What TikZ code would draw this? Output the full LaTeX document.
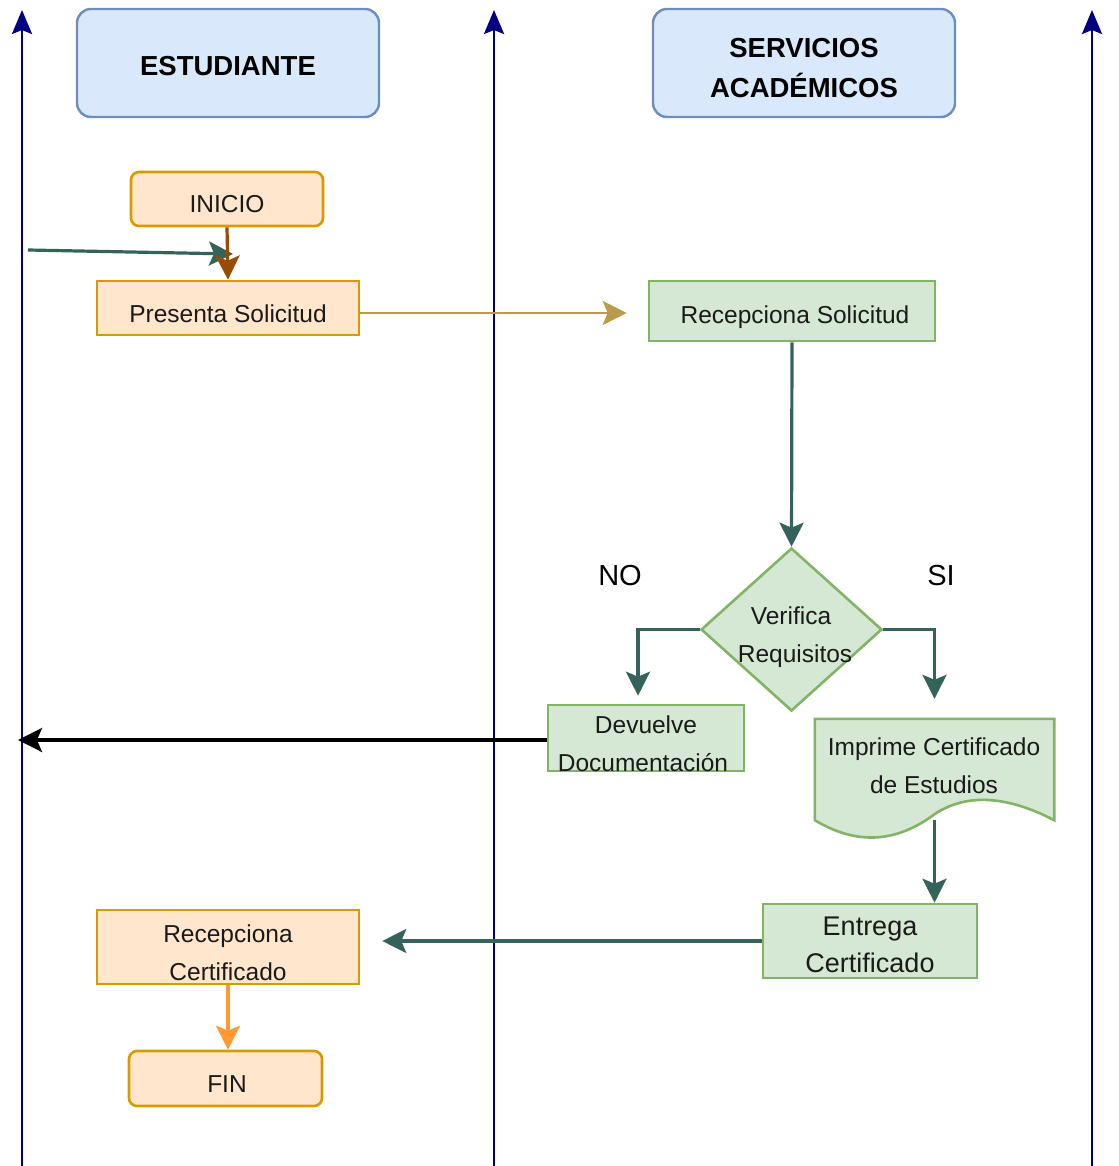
\documentclass[tikz,border=0pt]{standalone}
\usepackage{fontspec}
\setmainfont{Liberation Sans}
\usetikzlibrary{arrows.meta,shapes.geometric,calc}
\definecolor{hfill}{HTML}{DAE8FC}
\definecolor{hdraw}{HTML}{6C8EBF}
\definecolor{ofill}{HTML}{FFE6CC}
\definecolor{odraw}{HTML}{D79B00}
\definecolor{gfill}{HTML}{D5E8D4}
\definecolor{gdraw}{HTML}{82B366}
\definecolor{lanec}{HTML}{000080}
\definecolor{tealc}{HTML}{35635C}
\definecolor{tanc}{HTML}{B99B4B}
\definecolor{brownc}{HTML}{994C00}
\definecolor{orangec}{HTML}{FF9933}
\definecolor{txtc}{HTML}{1A1A1A}
\tikzset{
  hdrbox/.style={draw=hdraw,fill=hfill,line width=2.4pt,rounded corners=14pt,minimum width=302pt,minimum height=108pt,inner sep=0pt},
  obox/.style={draw=odraw,fill=ofill,line width=2.6pt,minimum width=262pt,inner sep=0pt},
  oround/.style={obox,rounded corners=8pt},
  gbox/.style={draw=gdraw,fill=gfill,line width=2.6pt,inner sep=0pt},
  txt/.style={inner sep=0pt,anchor=base,text=txtc,font=\fontsize{24.5}{29}\selectfont},
  bigtxt/.style={txt,font=\fontsize{27}{32}\selectfont},
  yesno/.style={txt,text=black,font=\fontsize{29}{34}\selectfont},
  hdrtxt/.style={txt,text=black,font=\bfseries\fontsize{27.5}{33}\selectfont},
  lanearrow/.style={draw=lanec,line width=2.8pt,-{Stealth[length=24pt,width=20pt,inset=4pt]}},
  conn/.style={line width=3.2pt,-{Stealth[length=24pt,width=24pt,inset=5pt]}},
}
\begin{document}
\begin{tikzpicture}[x=1pt,y=-1pt]
\useasboundingbox (0,0) rectangle (1118,1166);
% lanes
\coordinate (l1b) at (22,1170); \coordinate (l1t) at (22,10);
\coordinate (l2b) at (494,1170); \coordinate (l2t) at (494,10);
\coordinate (l3b) at (1092,1170); \coordinate (l3t) at (1092,10);
\draw[lanearrow] (l1b) -- (l1t);
\draw[lanearrow] (l2b) -- (l2t);
\draw[lanearrow] (l3b) -- (l3t);
% headers
\node[hdrbox] (hE) at (228,63) {};
\node[hdrtxt] (hEt) at (228,76) {ESTUDIANTE};
\node[hdrbox] (hS) at (804,63) {};
\node[hdrtxt] (hSt1) at (804,58) {SERVICIOS};
\node[hdrtxt] (hSt2) at (804,98) {ACADÉMICOS};
% student lane
\node[oround,minimum width=192pt,minimum height=54pt] (inicio) at (227,199) {};
\node[txt] (inicioT) at (227,213) {INICIO};
\node[obox,minimum height=54pt] (pres) at (228,308) {};
\node[txt] (presT) at (228,322) {Presenta Solicitud};
\node[obox,minimum height=74pt] (recC) at (228,947) {};
\node[txt] (recCT1) at (228,942) {Recepciona};
\node[txt] (recCT2) at (228,980) {Certificado};
\node[oround,minimum width=193pt,minimum height=55pt] (fin) at (225.5,1078.5) {};
\node[txt] (finT) at (227,1092) {FIN};
% services lane
\node[gbox,minimum width=286pt,minimum height=60pt] (recS) at (792,311) {};
\node[txt] (recST) at (795,323) {Recepciona Solicitud};
\node[gbox,diamond,minimum width=181pt,minimum height=163pt] (ver) at (791.5,629.5) {};
\node[txt] (verT1) at (791,624) {Verifica};
\node[txt] (verT2) at (795,662) {Requisitos};
\node[yesno] (no) at (620,585) {NO};
\node[yesno] (si) at (941,585) {SI};
\node[gbox,minimum width=196pt,minimum height=66pt] (dev) at (646,738) {};
\node[inner sep=0pt,minimum width=239pt,minimum height=101pt] (imp) at (934.5,769.5) {};
\draw[draw=gdraw,fill=gfill,line width=2.6pt]
  (imp.north west) -- (imp.north east) -- (imp.south east)
  .. controls ($(imp.south east)+(-50,-26)$) and ($(imp.south)+(30,-26)$) .. ($(imp.south)+(0,-6)$)
  .. controls ($(imp.south)+(-40,24)$) and ($(imp.south west)+(40,24)$) .. (imp.south west) -- cycle;
\node[txt] (devT1) at (646,733) {Devuelve};
\node[txt] (devT2) at (643,771) {Documentación};
\node[txt] (impT1) at (934,755) {Imprime Certificado};
\node[txt] (impT2) at (934,793) {de Estudios};
\node[gbox,minimum width=214pt,minimum height=74pt] (ent) at (870,941) {};
\node[bigtxt] (entT1) at (870,935) {Entrega};
\node[bigtxt] (entT2) at (870,972) {Certificado};
% connectors
\coordinate (inStart) at (28,250);
\coordinate (inEnd) at (233,254);
\draw[conn,draw=tealc] (inStart) -- (inEnd);
\draw[conn,draw=brownc] (inicio.south) -- (pres.north);
\draw[conn,draw=tanc,line width=2.8pt,shorten >=21pt] ($(pres.east)+(0,5)$) -- ($(pres.east -| recS.west)+(0,5)$);
\draw[conn,draw=tealc] (recS.south) -- (ver.north);
\draw[conn,draw=tealc,shorten >=8pt] (ver.west) -| (dev.north -| 638,0);
\draw[conn,draw=tealc,shorten >=20pt] (ver.east) -| (imp.north);
\coordinate (devOut) at (18,740);
\draw[conn,draw=black] (dev.west |- devOut) -- (devOut);
\draw[conn,draw=tealc] (imp.south) -- (ent.north -| imp.south);
\draw[conn,draw=tealc,shorten >=22pt] (ent.west) -- (ent.west -| recC.east);
\draw[conn,draw=orangec] (recC.south) -- (fin.north -| recC.south);
\end{tikzpicture}
\end{document}
